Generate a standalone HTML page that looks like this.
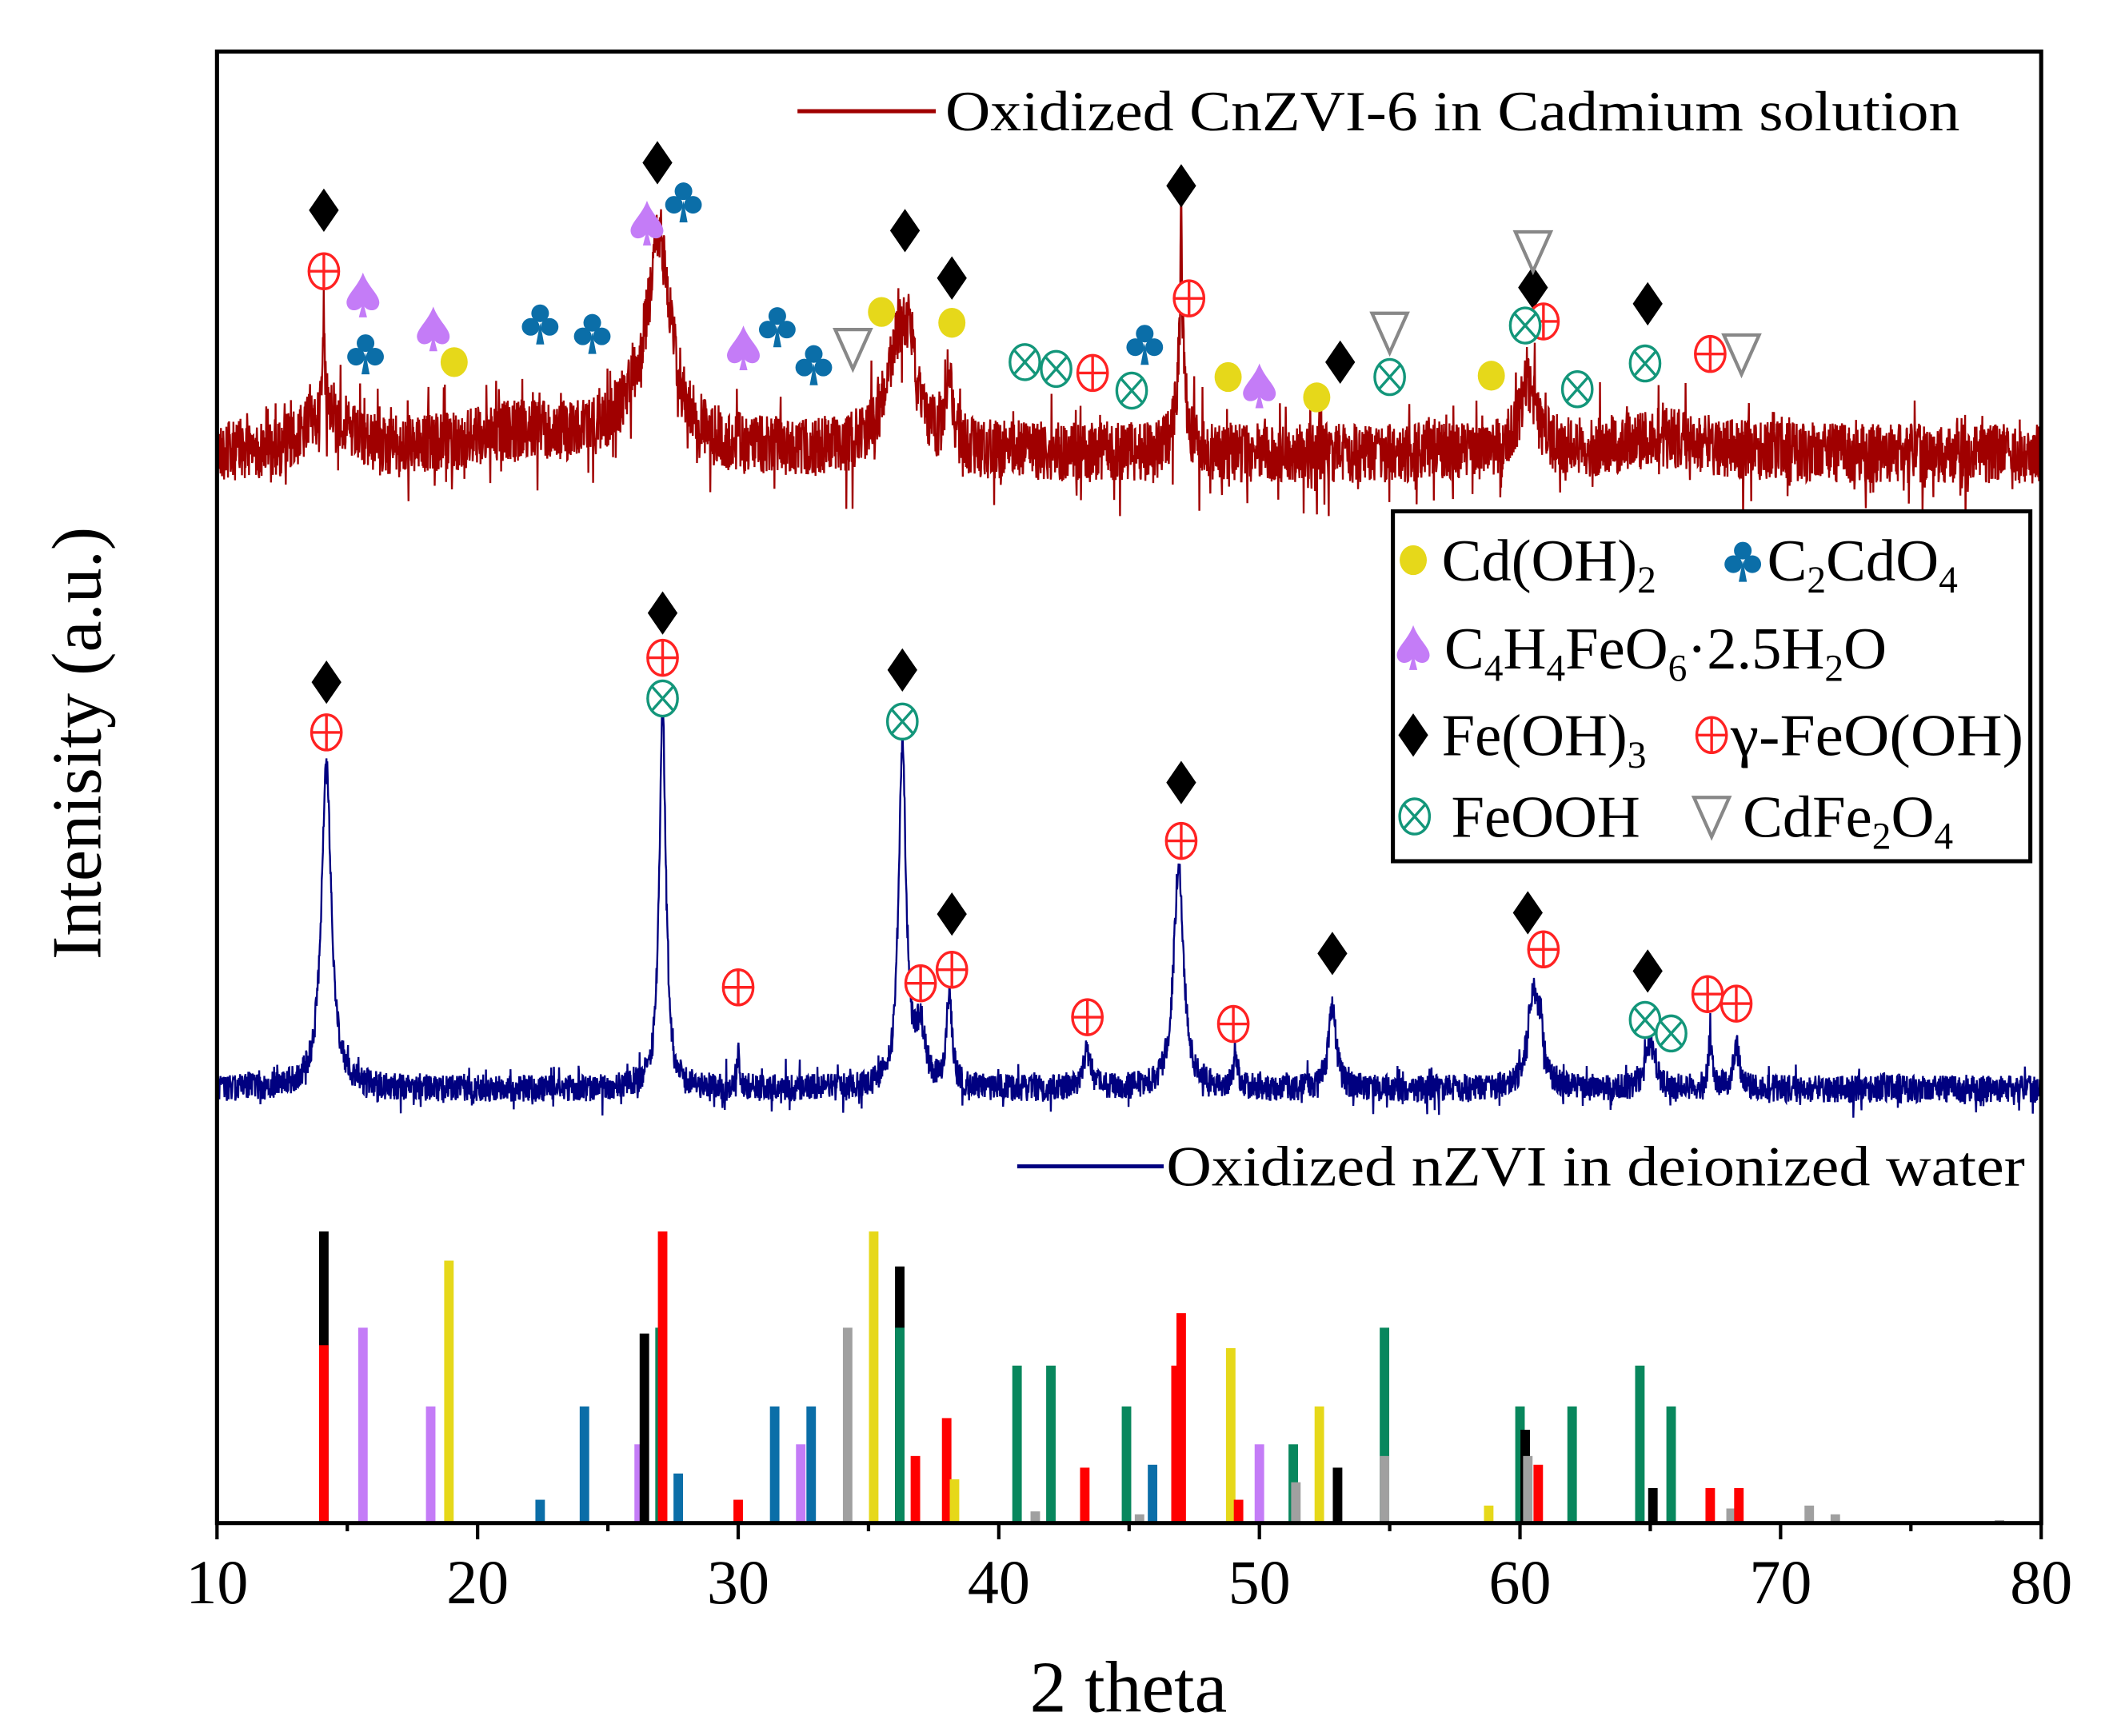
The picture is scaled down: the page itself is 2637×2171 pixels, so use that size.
<!DOCTYPE html>
<html><head><meta charset="utf-8"><style>
html,body{margin:0;padding:0;background:#fff;}
svg{display:block;}
text{font-family:"Liberation Serif",serif;fill:#000;}
</style></head><body>
<svg id="chart" width="2637" height="2171" viewBox="0 0 1555 1280" preserveAspectRatio="none" xmlns="http://www.w3.org/2000/svg">
<defs><clipPath id="plotclip"><rect x="160" y="38" width="1345" height="1085"/></clipPath></defs>
<g id="curves" clip-path="url(#plotclip)"></g>
<g id="sticks"></g>
<g id="markers"></g>
<g id="axes"></g>
<g id="legend-top">
<line x1="588" y1="82" x2="690" y2="82" stroke="#a00000" stroke-width="3"/>
<text x="697" y="96" font-size="42" textLength="748" lengthAdjust="spacingAndGlyphs">Oxidized CnZVI-6 in Cadmium solution</text>
</g>
<g id="legend-bottom">
<line x1="750" y1="860" x2="858" y2="860" stroke="#000080" stroke-width="3"/>
<text x="860" y="874" font-size="42" textLength="633" lengthAdjust="spacingAndGlyphs">Oxidized nZVI in deionized water</text>
</g>
<g id="phase-legend">
<rect x="1027" y="377" width="470" height="258" fill="#fff" stroke="#000" stroke-width="3"/>
<g id="legmarks"></g>
<text x="1063" y="428" font-size="44">Cd(OH)<tspan font-size="28" dy="9">2</tspan></text>
<text x="1303" y="428" font-size="44">C<tspan font-size="28" dy="9">2</tspan><tspan dy="-9">CdO</tspan><tspan font-size="28" dy="9">4</tspan></text>
<text x="1065" y="493" font-size="44">C<tspan font-size="28" dy="9">4</tspan><tspan dy="-9">H</tspan><tspan font-size="28" dy="9">4</tspan><tspan dy="-9">FeO</tspan><tspan font-size="28" dy="9">6</tspan><tspan dy="-9">·2.5H</tspan><tspan font-size="28" dy="9">2</tspan><tspan dy="-9">O</tspan></text>
<text x="1063" y="557" font-size="44">Fe(OH)<tspan font-size="28" dy="9">3</tspan></text>
<text x="1276" y="557" font-size="44" textLength="216" lengthAdjust="spacingAndGlyphs">γ-FeO(OH)</text>
<text x="1070" y="617" font-size="44">FeOOH</text>
<text x="1285" y="617" font-size="44">CdFe<tspan font-size="28" dy="9">2</tspan><tspan dy="-9">O</tspan><tspan font-size="28" dy="9">4</tspan></text>
</g>
<text x="832" y="1262" font-size="54" text-anchor="middle">2 theta</text>
<text x="0" y="0" font-size="52" text-anchor="middle" transform="translate(74,548) rotate(-90)">Intenisity (a.u.)</text>
</svg>
<script>
// ---- data ----
const xTicks = [10,20,30,40,50,60,70,80];
// red (CnZVI-6) peaks: position, height, fwhm
const redPos = [14.1,14.2,27.0,26.5,36.2,36.6,38.1,47.0,47.0,60.3,21.5,65.5];
const redHt  = [70,35,130,35,85,35,55,90,90,50,15,12];
const redW   = [0.08,1.5,1.0,2.5,1.2,0.4,0.3,0.35,0.05,0.8,5,4];
// blue (nZVI) peaks
const bluePos = [14.2,27.1,30.0,36.3,37.0,38.1,43.4,46.9,49.1,52.8,60.5,60.8,65.0,67.3,68.3];
const blueHt  = [240,280,25,250,40,70,30,165,25,60,70,30,35,35,30];
const blueW   = [0.45,0.3,0.15,0.35,0.4,0.25,0.3,0.45,0.2,0.35,0.5,0.2,0.4,0.2,0.3];
// reference sticks: position, relative height (0..1), color
const stickPos = [14.1,14.1,15.6,18.2,18.9,22.4,24.1,26.2,26.4,27.0,27.1,27.7,30.0,31.4,32.4,32.8,34.2,35.2,36.2,36.2,36.8,38.0,38.3,40.7,41.4,42.0,43.3,44.9,45.4,45.9,46.8,47.0,48.9,49.2,50.0,51.3,51.4,52.3,53.0,54.8,54.8,58.8,60.0,60.2,60.3,60.7,62.0,64.6,65.1,65.8,67.3,68.1,68.4,71.1,72.1,78.4];
const stickHt  = [1.0,0.61,0.67,0.40,0.90,0.08,0.40,0.27,0.65,0.67,1.0,0.17,0.08,0.40,0.27,0.40,0.67,1.0,0.88,0.67,0.23,0.36,0.15,0.54,0.04,0.54,0.19,0.40,0.03,0.20,0.54,0.72,0.60,0.08,0.27,0.27,0.14,0.40,0.19,0.67,0.23,0.06,0.40,0.32,0.23,0.20,0.40,0.54,0.12,0.40,0.12,0.05,0.12,0.06,0.03,0.01];
const stickCol = ['#000','#f00','#c47cf7','#c47cf7','#e6d81a','#0b6ea8','#0b6ea8','#c47cf7','#000','#08875d','#f00','#0b6ea8','#f00','#0b6ea8','#c47cf7','#0b6ea8','#a0a0a0','#e6d81a','#000','#08875d','#f00','#f00','#e6d81a','#08875d','#a0a0a0','#08875d','#f00','#08875d','#a0a0a0','#0b6ea8','#f00','#f00','#e6d81a','#f00','#c47cf7','#08875d','#a0a0a0','#e6d81a','#000','#08875d','#a0a0a0','#e6d81a','#08875d','#000','#a0a0a0','#f00','#08875d','#08875d','#000','#08875d','#f00','#a0a0a0','#f00','#a0a0a0','#a0a0a0','#a0a0a0'];
// phase markers: type, 2theta, vertical placement (px)
const mkType = ['d','d','d','d','d','d','d','d','p','p','p','p','p','s','s','s','s','s','c','c','c','c','c','c','c','y','y','y','y','y','y','x','x','x','x','x','x','x','t','t','t','t',
 'd','d','d','d','d','d','d','d','p','p','p','p','p','p','p','p','p','p','p','x','x','x','x'];
const mkPos = [14.1,26.9,36.4,38.2,47.0,53.1,60.5,64.9,14.1,47.3,43.6,60.9,67.3,15.6,18.3,26.5,30.2,50.0,15.7,22.4,24.4,27.9,31.5,32.9,45.6,19.1,35.5,38.2,48.8,52.2,58.9,41.0,42.2,45.1,55.0,60.2,62.2,64.8,34.4,55.0,60.5,68.5,
 14.2,27.1,36.3,38.2,47.0,52.8,60.3,64.9,14.2,27.1,30.0,37.0,38.2,43.4,47.0,49.0,60.9,67.2,68.3,27.1,36.3,64.8,65.8];
const mkY = [155,120,170,205,137,267,212,224,200,220,275,237,261,218,243,165,257,285,260,238,245,148,240,268,253,267,230,238,278,293,277,267,272,288,278,240,287,268,257,245,185,261,
 503,452,494,674,577,703,673,716,540,485,728,725,715,750,620,755,700,733,740,515,532,752,762];

// ---- scales ----
const X0=160,X1=1505,YB=1123,STICKTOP=908;
const xs = v => X0+(v-10)/70*(X1-X0);
const NS='http://www.w3.org/2000/svg';
function mk(tag,attrs,parent){const e=document.createElementNS(NS,tag);for(const k in attrs)e.setAttribute(k,attrs[k]);parent.appendChild(e);return e;}

// noise (texture only)
let seed=12345;
function rnd(){seed=(seed*1103515245+12345)%2147483648;return seed/2147483648;}
function curve(pos,ht,w,base,namp,spikeAmp,step){
  let d='';
  for(let t=10;t<=80;t+=step){
    let y=0;
    for(let i=0;i<pos.length;i++){const g=(t-pos[i])/(w[i]/2);y+=ht[i]/(1+g*g);}
    let n=(rnd()-0.5)*2*namp;
    if(rnd()<0.12) n+=(rnd()-0.5)*2*spikeAmp;
    const yy=base-y+n;
    d+=(d?'L':'M')+xs(t).toFixed(1)+' '+yy.toFixed(1);
  }
  return d;
}
const cg=document.getElementById('curves');
const rc=mk('path',{d:curve(redPos,redHt,redW,335,22,30,0.015),fill:'none',stroke:'#a00000','stroke-width':1.4},cg);


const bc=mk('path',{d:curve(bluePos,blueHt,blueW,803,10,12,0.015),fill:'none',stroke:'#000080','stroke-width':1.4},cg);



// sticks
const sg=document.getElementById('sticks');
for(let i=0;i<stickPos.length;i++){
  const h=stickHt[i]*(YB-STICKTOP);
  const r=mk('rect',{x:xs(stickPos[i])-3.5,y:YB-h,width:7,height:h,fill:stickCol[i]},sg);
  
  
}

// markers
function marker(type,x,y,parent){
  const g=mk('g',{},parent);
  if(type==='d') mk('path',{d:`M${x} ${y-16}L${x+11} ${y}L${x} ${y+16}L${x-11} ${y}Z`,fill:'#000'},g);
  else if(type==='p'){mk('ellipse',{cx:x,cy:y,rx:11,ry:13,fill:'#fff',stroke:'#f22','stroke-width':2},g);
    mk('path',{d:`M${x-11} ${y}H${x+11}M${x} ${y-13}V${y+13}`,stroke:'#f22','stroke-width':2},g);}
  else if(type==='x'){mk('ellipse',{cx:x,cy:y,rx:11,ry:13,fill:'#fff',stroke:'#13967a','stroke-width':2},g);
    mk('path',{d:`M${x-8} ${y-9}L${x+8} ${y+9}M${x+8} ${y-9}L${x-8} ${y+9}`,stroke:'#13967a','stroke-width':2},g);}
  else if(type==='t') mk('path',{d:`M${x-13} ${y-14}H${x+13}L${x} ${y+15}Z`,fill:'#fff',stroke:'#888','stroke-width':2.5},g);
  else if(type==='y') mk('ellipse',{cx:x,cy:y,rx:10,ry:11,fill:'#e6d81a'},g);
  else if(type==='c'){mk('circle',{cx:x,cy:y-7,r:6.5,fill:'#0b6ea8'},g);mk('circle',{cx:x-7,cy:y+3,r:6.5,fill:'#0b6ea8'},g);
    mk('circle',{cx:x+7,cy:y+3,r:6.5,fill:'#0b6ea8'},g);mk('path',{d:`M${x} ${y}L${x+3} ${y+16}H${x-3}Z`,fill:'#0b6ea8'},g);}
  else if(type==='s') mk('path',{d:`M${x} ${y-17}C${x+4} ${y-6} ${x+13} ${y} ${x+12} ${y+6}C${x+11} ${y+12} ${x+4} ${y+12} ${x+1} ${y+8}L${x+3} ${y+16}H${x-3}L${x-1} ${y+8}C${x-4} ${y+12} ${x-11} ${y+12} ${x-12} ${y+6}C${x-13} ${y} ${x-4} ${y-6} ${x} ${y-17}Z`,fill:'#c47cf7'},g);
  return g;
}
const mg=document.getElementById('markers');
for(let i=0;i<mkType.length;i++){
  const g=marker(mkType[i],xs(mkPos[i]),mkY[i],mg);
  
  
}
const lm=document.getElementById('legmarks');
[['y',1042,413],['c',1285,413],['s',1042,478],['d',1042,542],['p',1262,542],['x',1043,602],['t',1262,602]].forEach(a=>{
  const g=marker(a[0],a[1],a[2],lm);
  
  
});

// axes
const ag=document.getElementById('axes');
const fr=mk('rect',{x:X0,y:38,width:X1-X0,height:YB-38,fill:'none',stroke:'#000','stroke-width':3},ag);


for(let v=10;v<=80;v+=5){
  const major=(v%10===0);
  const t=mk('line',{x1:xs(v),x2:xs(v),y1:YB,y2:YB+(major?12:6),stroke:'#000','stroke-width':2.5},ag);
  
  
}
xTicks.forEach(v=>{
  const t=mk('text',{x:xs(v),y:1182,'font-size':46,'text-anchor':'middle'},ag);
  t.textContent=v;
  
  
});
</script>
</body></html>
